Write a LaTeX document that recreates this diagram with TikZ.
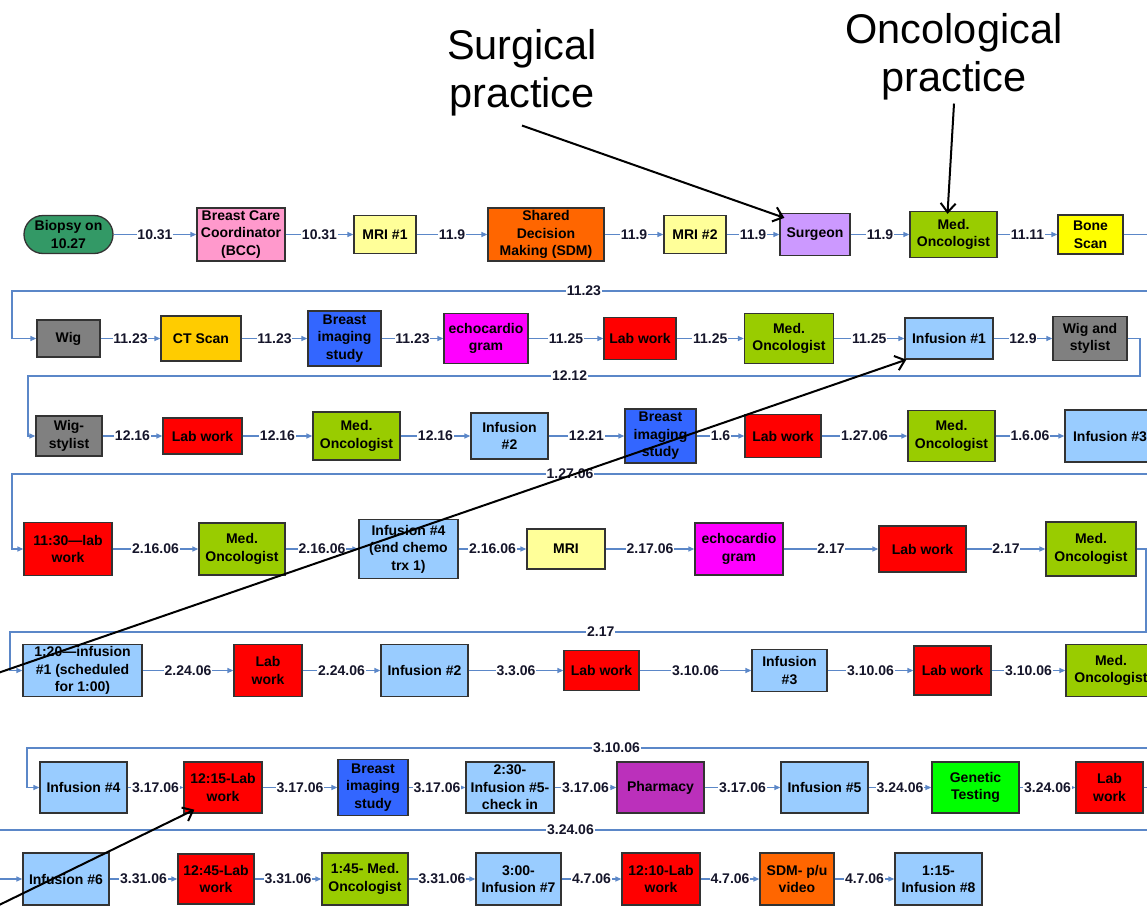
\documentclass[tikz,border=0pt]{standalone}
\usepackage{fontspec}
\setmainfont{Liberation Sans}
\usetikzlibrary{arrows.meta}
\definecolor{cblue}{HTML}{5B87C8}
\definecolor{cgreen}{HTML}{339966}
\definecolor{cpink}{HTML}{FF99CC}
\definecolor{clyel}{HTML}{FFFF99}
\definecolor{corange}{HTML}{FF6600}
\definecolor{clav}{HTML}{CC99FF}
\definecolor{conc}{HTML}{99CC00}
\definecolor{cyel}{HTML}{FFFF00}
\definecolor{cgray}{HTML}{808080}
\definecolor{cgold}{HTML}{FFCC00}
\definecolor{cbis}{HTML}{3366FF}
\definecolor{cmag}{HTML}{FF00FF}
\definecolor{cred}{HTML}{FF0000}
\definecolor{cinf}{HTML}{99CCFF}
\definecolor{cpha}{HTML}{BB30BB}
\definecolor{cgen}{HTML}{00FF00}
\definecolor{ctxt}{HTML}{15152A}
\tikzset{
  box/.style={draw=black!80, line width=1.3pt, align=center, inner sep=1pt,
    font=\fontsize{14}{17.5}\selectfont\bfseries, text=black},
  biopsy/.style={box, fill=cgreen, rounded corners=19pt},
  bcc/.style={box, fill=cpink},
  mri/.style={box, fill=clyel},
  sdm/.style={box, fill=corange},
  surg/.style={box, fill=clav},
  onc/.style={box, fill=conc},
  bone/.style={box, fill=cyel},
  wig/.style={box, fill=cgray},
  ct/.style={box, fill=cgold},
  bis/.style={box, fill=cbis},
  echo/.style={box, fill=cmag},
  lab/.style={box, fill=cred},
  inf/.style={box, fill=cinf},
  pha/.style={box, fill=cpha},
  gen/.style={box, fill=cgen},
  conn/.style={draw=cblue, line width=1.3pt, -{Triangle[length=6pt,width=5pt]}},
  elab/.style={fill=white, inner sep=0.8pt, text=ctxt,
    font=\fontsize{14}{16}\selectfont\bfseries},
  ann/.style={draw=black, line width=2pt, -{Straight Barb[length=9pt,width=15pt,line width=2pt]}},
  title/.style={align=center, font=\fontsize{41.5}{48}\selectfont, text=black, inner sep=0pt},
}
\begin{document}
\begin{tikzpicture}[x=1pt,y=-1pt]
\useasboundingbox (0,0) rectangle (1147,907);
\clip (0,0) rectangle (1147,907);
\fill[white] (0,0) rectangle (1147,907);

% titles
\node[title] (surgtxt) at (522,73) {Surgical\\practice};
\node[title] (oncotxt) at (954,57) {Oncological\\practice};

% row 1
\node[biopsy, minimum width=89, minimum height=38] (n11) at (68.5,234.5) {Biopsy on\\10.27};
\node[bcc, minimum width=88, minimum height=53] (n12) at (241,234.5) {Breast Care\\Coordinator\\(BCC)};
\node[mri, minimum width=62, minimum height=38] (n13) at (385,234.5) {MRI \#1};
\node[sdm, minimum width=116, minimum height=53] (n14) at (546,234.5) {Shared\\Decision\\Making (SDM)};
\node[mri, minimum width=62, minimum height=38] (n15) at (695,234.5) {MRI \#2};
\node[surg, minimum width=70, minimum height=42] (n16) at (815,234.5) {Surgeon};
\node[onc, minimum width=87, minimum height=46] (n17) at (953.5,234.5) {Med.\\Oncologist};
\node[bone, minimum width=65, minimum height=39] (n18) at (1090.5,234.5) {Bone\\Scan};

% row 2
\node[wig, minimum width=63, minimum height=37] (n21) at (68.5,338.5) {Wig};
\node[ct, minimum width=80, minimum height=45] (n22) at (201,338.5) {CT Scan};
\node[bis, minimum width=73, minimum height=55] (n23) at (344.5,338.5) {Breast\\imaging\\study};
\node[echo, minimum width=84, minimum height=50] (n24) at (486,338.5) {echocardio\\gram};
\node[lab, minimum width=72, minimum height=42] (n25) at (640,338.5) {Lab work};
\node[onc, minimum width=89, minimum height=50] (n26) at (789,338.5) {Med.\\Oncologist};
\node[inf, minimum width=88, minimum height=41] (n27) at (949,338.5) {Infusion \#1};
\node[wig, minimum width=74, minimum height=44] (n28) at (1090,338.5) {Wig and\\stylist};

% row 3
\node[wig, minimum width=66, minimum height=40] (n31) at (69,436) {Wig-\\stylist};
\node[lab, minimum width=79, minimum height=36] (n32) at (202.5,436) {Lab work};
\node[onc, minimum width=87, minimum height=48] (n33) at (356.5,436) {Med.\\Oncologist};
\node[inf, minimum width=77, minimum height=46] (n34) at (509.5,436) {Infusion\\\#2};
\node[bis, minimum width=71, minimum height=54] (n35) at (660.5,436) {Breast\\imaging\\study};
\node[lab, minimum width=76, minimum height=43] (n36) at (783,436) {Lab work};
\node[onc, minimum width=87, minimum height=51] (n37) at (951.5,436) {Med.\\Oncologist};
\node[inf, minimum width=90, minimum height=52] (n38) at (1110,436) {Infusion \#3};

% row 4
\node[lab, minimum width=88, minimum height=53] (n41) at (68,549) {11:30—lab\\work};
\node[onc, minimum width=86, minimum height=52] (n42) at (242,549) {Med.\\Oncologist};
\node[inf, minimum width=99, minimum height=59] (n43) at (408.5,549) {Infusion \#4\\(end chemo\\trx 1)};
\node[mri, minimum width=78, minimum height=40] (n44) at (566,549) {MRI};
\node[echo, minimum width=88, minimum height=52] (n45) at (739,549) {echocardio\\gram};
\node[lab, minimum width=87, minimum height=46] (n46) at (922.5,549) {Lab work};
\node[onc, minimum width=90, minimum height=54] (n47) at (1091,549) {Med.\\Oncologist};

% row 5
\node[inf, minimum width=119, minimum height=52] (n51) at (82.5,670.5) {1:20—infusion\\\#1 (scheduled\\for 1:00)};
\node[lab, minimum width=68, minimum height=52] (n52) at (268,670.5) {Lab\\work};
\node[inf, minimum width=87, minimum height=52] (n53) at (424.5,670.5) {Infusion \#2};
\node[lab, minimum width=75, minimum height=40] (n54) at (601.5,670.5) {Lab work};
\node[inf, minimum width=75, minimum height=42] (n55) at (789.5,670.5) {Infusion\\\#3};
\node[lab, minimum width=77, minimum height=49] (n56) at (952.5,670.5) {Lab work};
\node[onc, minimum width=90, minimum height=52] (n57) at (1111,670.5) {Med.\\Oncologist};

% row 6
\node[inf, minimum width=87, minimum height=51] (n61) at (83.5,787.5) {Infusion \#4};
\node[lab, minimum width=78, minimum height=51] (n62) at (223,787.5) {12:15-Lab\\work};
\node[bis, minimum width=70, minimum height=56] (n63) at (373,787.5) {Breast\\imaging\\study};
\node[inf, minimum width=88, minimum height=51] (n64) at (510,787.5) {2:30-\\Infusion \#5-\\check in};
\node[pha, minimum width=87, minimum height=51] (n65) at (660.5,787.5) {Pharmacy};
\node[inf, minimum width=87, minimum height=51] (n66) at (824.5,787.5) {Infusion \#5};
\node[gen, minimum width=87, minimum height=51] (n67) at (975.5,787.5) {Genetic\\Testing};
\node[lab, minimum width=67, minimum height=51] (n68) at (1109.5,787.5) {Lab\\work};

% row 7
\node[inf, minimum width=86, minimum height=52] (n71) at (66,879) {Infusion \#6};
\node[lab, minimum width=76, minimum height=50] (n72) at (216,879) {12:45-Lab\\work};
\node[onc, minimum width=86, minimum height=52] (n73) at (365,879) {1:45- Med.\\Oncologist};
\node[inf, minimum width=85, minimum height=52] (n74) at (518.5,879) {3:00-\\Infusion \#7};
\node[lab, minimum width=78, minimum height=52] (n75) at (661,879) {12:10-Lab\\work};
\node[sdm, minimum width=74, minimum height=52] (n76) at (797,879) {SDM- p/u\\video};
\node[inf, minimum width=87, minimum height=52] (n77) at (938.5,879) {1:15-\\Infusion \#8};

% turning points of the return connectors
\coordinate (e1) at (1165,291); \coordinate (w1) at (12,291);
\coordinate (e2) at (1140,376); \coordinate (w2) at (28,376);
\coordinate (e3) at (1165,474); \coordinate (w3) at (12,474);
\coordinate (e4) at (1146,632); \coordinate (w4) at (10,632);
\coordinate (e5) at (1165,748); \coordinate (w5) at (27,748);
\coordinate (e6) at (1165,830); \coordinate (w6) at (-10,830);

% row 1 connectors
\draw[conn] (n11) -- node[elab]{10.31} (n12);
\draw[conn] (n12) -- node[elab]{10.31} (n13);
\draw[conn] (n13) -- node[elab]{11.9} (n14);
\draw[conn] (n14) -- node[elab]{11.9} (n15);
\draw[conn] (n15) -- node[elab]{11.9} (n16);
\draw[conn] (n16) -- node[elab]{11.9} (n17);
\draw[conn] (n17) -- node[elab]{11.11} (n18);
\draw[conn] (n18) -| (e1) -- node[elab, pos=0.504]{11.23} (w1) |- (n21);

% row 2
\draw[conn] (n21) -- node[elab]{11.23} (n22);
\draw[conn] (n22) -- node[elab]{11.23} (n23);
\draw[conn] (n23) -- node[elab]{11.23} (n24);
\draw[conn] (n24) -- node[elab]{11.25} (n25);
\draw[conn] (n25) -- node[elab]{11.25} (n26);
\draw[conn] (n26) -- node[elab]{11.25} (n27);
\draw[conn] (n27) -- node[elab]{12.9} (n28);
\draw[conn] (n28) -| (e2) -- node[elab, pos=0.513]{12.12} (w2) |- (n31);

% row 3
\draw[conn] (n31) -- node[elab]{12.16} (n32);
\draw[conn] (n32) -- node[elab]{12.16} (n33);
\draw[conn] (n33) -- node[elab]{12.16} (n34);
\draw[conn] (n34) -- node[elab]{12.21} (n35);
\draw[conn] (n35) -- node[elab]{1.6} (n36);
\draw[conn] (n36) -- node[elab]{1.27.06} (n37);
\draw[conn] (n37) -- node[elab]{1.6.06} (n38);
\draw[conn] (n38) -| (e3) -- node[elab, pos=0.516]{1.27.06} (w3) |- (n41);

% row 4
\draw[conn] (n41) -- node[elab]{2.16.06} (n42);
\draw[conn] (n42) -- node[elab]{2.16.06} (n43);
\draw[conn] (n43) -- node[elab]{2.16.06} (n44);
\draw[conn] (n44) -- node[elab]{2.17.06} (n45);
\draw[conn] (n45) -- node[elab]{2.17} (n46);
\draw[conn] (n46) -- node[elab]{2.17} (n47);
\draw[conn] (n47) -| (e4) -- node[elab, pos=0.48]{2.17} (w4) |- (n51);

% row 5
\draw[conn] (n51) -- node[elab]{2.24.06} (n52);
\draw[conn] (n52) -- node[elab]{2.24.06} (n53);
\draw[conn] (n53) -- node[elab]{3.3.06} (n54);
\draw[conn] (n54) -- node[elab]{3.10.06} (n55);
\draw[conn] (n55) -- node[elab]{3.10.06} (n56);
\draw[conn] (n56) -- node[elab]{3.10.06} (n57);
\draw[conn] (n57) -| (e5) -- node[elab, pos=0.482]{3.10.06} (w5) |- (n61);

% row 6
\draw[conn] (n61) -- node[elab]{3.17.06} (n62);
\draw[conn] (n62) -- node[elab]{3.17.06} (n63);
\draw[conn] (n63) -- node[elab]{3.17.06} (n64);
\draw[conn] (n64) -- node[elab]{3.17.06} (n65);
\draw[conn] (n65) -- node[elab]{3.17.06} (n66);
\draw[conn] (n66) -- node[elab]{3.24.06} (n67);
\draw[conn] (n67) -- node[elab]{3.24.06} (n68);
\draw[conn] (n68) -| (e6) -- node[elab, pos=0.506]{3.24.06} (w6) |- (n71);

% row 7
\draw[conn] (n71) -- node[elab]{3.31.06} (n72);
\draw[conn] (n72) -- node[elab]{3.31.06} (n73);
\draw[conn] (n73) -- node[elab]{3.31.06} (n74);
\draw[conn] (n74) -- node[elab]{4.7.06} (n75);
\draw[conn] (n75) -- node[elab]{4.7.06} (n76);
\draw[conn] (n76) -- node[elab]{4.7.06} (n77);

% annotation arrows
\coordinate (a3s) at (-5,674);
\coordinate (a4s) at (-5,907);
\draw[ann] ([yshift=-9pt]surgtxt.south) -- ([xshift=5pt,yshift=-5pt]n16.north west);
\draw[ann] ([yshift=-3pt]oncotxt.south) -- ([xshift=-6pt,yshift=-3pt]n17.north);
\draw[ann] (a3s) -- ([xshift=2pt]n27.south west);
\draw[ann] (a4s) -- ([xshift=11pt,yshift=4pt]n62.south west);
\end{tikzpicture}
\end{document}
